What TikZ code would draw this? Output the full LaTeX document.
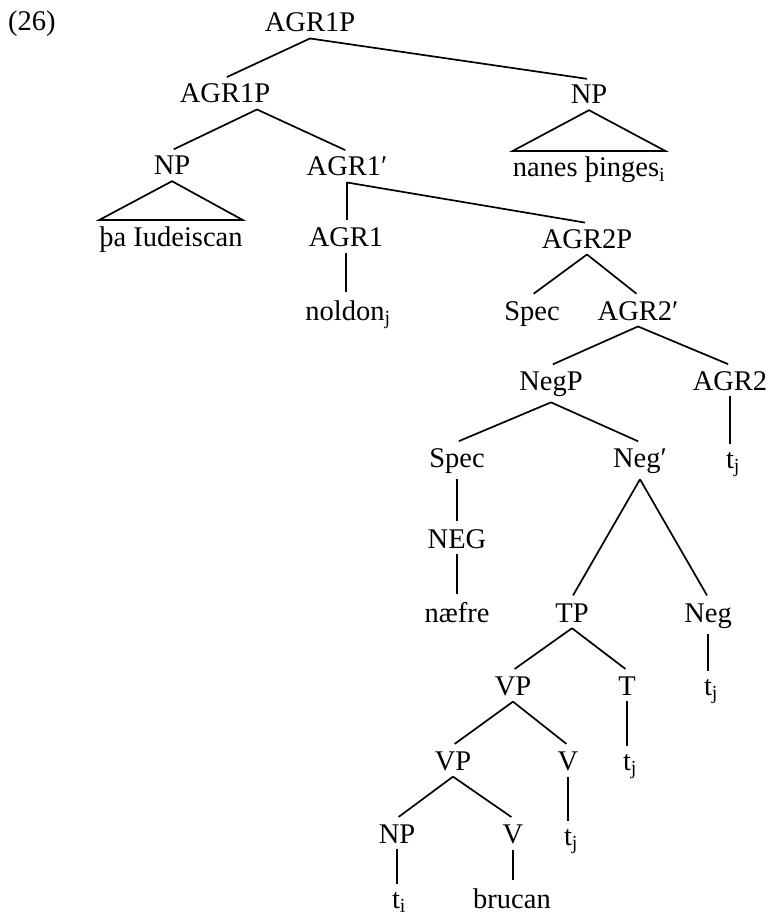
\documentclass[tikz,border=0pt]{standalone}
\usepackage{fontspec}
\setmainfont{Liberation Serif}
\begin{document}
\begin{tikzpicture}[x=1pt,y=-1pt,
  lab/.style={inner xsep=0pt, inner ysep=6pt, font=\fontsize{28.5}{34}\selectfont, anchor=base},
  br/.style={line width=1.7pt, shorten >=2pt},
  tri/.style={line width=1.7pt, line join=miter}]
\useasboundingbox (0,0) rectangle (770,917);
\node[lab, anchor=base west] (n26) at (8,31) {(26)};
\node[lab] (top) at (310,32) {AGR1P};
\node[lab] (agrm) at (225,103) {AGR1P};
\node[lab] (npr) at (589,104) {NP};
\node[lab] (nprl) at (589,177) {nanes þinges\textsubscript{i}};
\node[lab] (npl) at (172,175) {NP};
\node[lab] (agr1b) at (347,176) {AGR1′};
\node[lab] (npll) at (171,246) {þa Iudeiscan};
\node[lab] (agr1) at (346,247) {AGR1};
\node[lab] (noldon) at (348,320) {noldon\textsubscript{j}};
\node[lab] (agr2p) at (587,248) {AGR2P};
\node[lab] (spec1) at (532,320) {Spec};
\node[lab] (agr2b) at (638,320) {AGR2′};
\node[lab] (negp) at (551,390) {NegP};
\node[lab] (agr2) at (730,390) {AGR2};
\node[lab] (tj1) at (733,468) {t\textsubscript{j}};
\node[lab] (spec2) at (457,467) {Spec};
\node[lab] (negb) at (640,467) {Neg′};
\node[lab] (neg) at (457,548) {NEG};
\node[lab] (naefre) at (457,622) {næfre};
\node[lab] (tp) at (572,622) {TP};
\node[lab] (negl) at (708,622) {Neg};
\node[lab] (tj2) at (711,695) {t\textsubscript{j}};
\node[lab] (vp1) at (513,695) {VP};
\node[lab] (t) at (627,695) {T};
\node[lab] (tj3) at (630,770) {t\textsubscript{j}};
\node[lab] (vp2) at (453,770) {VP};
\node[lab] (v1) at (568,770) {V};
\node[lab] (tj4) at (571,845) {t\textsubscript{j}};
\node[lab] (np3) at (397,843) {NP};
\node[lab] (v2) at (513,843) {V};
\node[lab] (ti) at (399,908) {t\textsubscript{i}};
\node[lab] (brucan) at (512,908) {brucan};

\draw[br] (top.south) -- (agrm.north);
\draw[br] (top.south) -- (npr.north);
\draw[br] ([xshift=32pt]agrm.south) -- (npl.north);
\draw[br] ([xshift=32pt]agrm.south) -- (agr1b.north);
\draw[tri] (npr.south) -- (nprl.north west) -- (nprl.north east) -- cycle;
\draw[tri] (npl.south) -- (npll.north west) -- (npll.north east) -- cycle;
\draw[br] (agr1b.south) -- (agr1b.south |- agr1.north);
\draw[br] (agr1b.south) -- (agr2p.north);
\draw[br] (agr1.south) -- (agr1.south |- noldon.north);
\draw[br] (agr2p.south) -- (spec1.north);
\draw[br] (agr2p.south) -- (agr2b.north);
\draw[br] (agr2b.south) -- (negp.north);
\draw[br] (agr2b.south) -- (agr2.north);
\draw[br] (agr2.south) -- (agr2.south |- tj1.north);
\draw[br] (negp.south) -- (spec2.north);
\draw[br] (negp.south) -- (negb.north);
\draw[br] (spec2.south) -- (spec2.south |- neg.north);
\draw[br] (neg.south) -- (neg.south |- naefre.north);
\draw[br] (negb.south) -- (tp.north);
\draw[br] (negb.south) -- (negl.north);
\draw[br] (negl.south) -- (negl.south |- tj2.north);
\draw[br] (tp.south) -- (vp1.north);
\draw[br] (tp.south) -- (t.north);
\draw[br] (t.south) -- (t.south |- tj3.north);
\draw[br] (vp1.south) -- (vp2.north);
\draw[br] (vp1.south) -- (v1.north);
\draw[br] (v1.south) -- (v1.south |- tj4.north);
\draw[br] (vp2.south) -- (np3.north);
\draw[br] (vp2.south) -- (v2.north);
\draw[br] (np3.south) -- (np3.south |- ti.north);
\draw[br] (v2.south) -- (v2.south |- brucan.north);
\end{tikzpicture}
\end{document}
